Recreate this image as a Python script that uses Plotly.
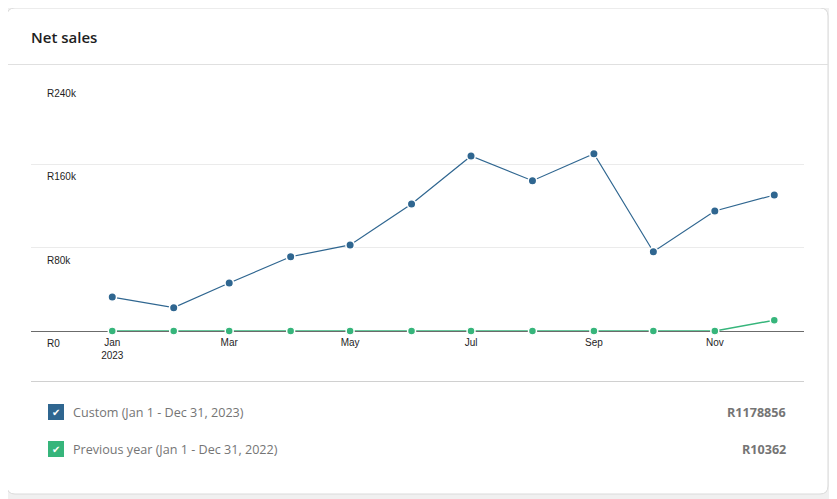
import plotly.graph_objects as go

# data
months = ["2023-01-01", "2023-02-01", "2023-03-01", "2023-04-01", "2023-05-01", "2023-06-01",
          "2023-07-01", "2023-08-01", "2023-09-01", "2023-10-01", "2023-11-01", "2023-12-01"]
current_sales = [32600, 22400, 46100, 71300, 82600, 121900, 168000, 144300, 170200, 76100, 115200, 130600]
previous_sales = [0, 0, 0, 0, 0, 0, 0, 0, 0, 0, 0, 10362]
x_tick_labels = ["Jan<br>2023", "Mar", "May", "Jul", "Sep", "Nov"]
y_ticks = [0, 80000, 160000, 240000]
y_tick_labels = ["R0", "R80k", "R160k", "R240k"]
legend_labels = ["Custom (Jan 1 - Dec 31, 2023)", "Previous year (Jan 1 - Dec 31, 2022)"]
legend_totals = ["R1178856", "R10362"]

BLUE = "#2f6690"
GREEN = "#36b57b"
# the page body keeps its 8px margin, so work in window pixels and shift
OFF = 8
W, H = 837 - OFF, 499 - OFF


def px_x(v):
    return (v - OFF) / W


def px_y(v):
    return 1 - (v - OFF) / H


fig = go.Figure()

fig.add_trace(go.Scatter(
    x=months, y=previous_sales, mode="lines+markers", cliponaxis=False,
    line=dict(color=GREEN, width=1.5),
    marker=dict(size=8, color=GREEN, line=dict(color="white", width=1.5)),
    hoverinfo="x+y", showlegend=False,
))
fig.add_trace(go.Scatter(
    x=months, y=current_sales, mode="lines+markers", cliponaxis=False,
    line=dict(color=BLUE, width=1.2),
    marker=dict(size=8.5, color=BLUE, line=dict(color="white", width=1.5)),
    hoverinfo="x+y", showlegend=False,
))

# card outline in window pixels
card = ("M 15,8 L 820,8 Q 828,8 828,16 L 828,486 Q 828,494 820,494 "
        "L 15,494 Q 7,494 7,486 L 7,16 Q 7,8 15,8 Z")


def path_to_paper(p):
    out = []
    for t in p.split():
        if "," in t:
            a, b = t.split(",")
            out.append(f"{px_x(float(a)):.5f},{px_y(float(b)):.5f}")
        else:
            out.append(t)
    return " ".join(out)


shapes = [
    dict(type="path", xref="paper", yref="paper", path=path_to_paper(card),
         fillcolor="white", line=dict(color="#dadada", width=1), layer="below"),
    dict(type="line", xref="paper", yref="paper", x0=px_x(7), x1=px_x(828),
         y0=px_y(64.5), y1=px_y(64.5), line=dict(color="#e0e0e0", width=1)),
    dict(type="line", xref="paper", yref="paper", x0=px_x(31), x1=px_x(804),
         y0=px_y(381.5), y1=px_y(381.5), line=dict(color="#d0d0d0", width=1)),
]

annotations = [
    dict(text="Net sales", xref="paper", yref="paper", x=px_x(29), y=px_y(37),
         xanchor="left", yanchor="middle", showarrow=False,
         font=dict(family="Open Sans", size=15, weight=600, color="#1e1e1e")),
]

# y tick labels sit just below their gridline, left aligned
for v, lab in zip(y_ticks, y_tick_labels):
    annotations.append(dict(text=lab, xref="paper", yref="y", x=px_x(45), y=v,
                            xanchor="left", yanchor="middle", yshift=-12.5, showarrow=False,
                            font=dict(family="Liberation Sans", size=10, color="#1e1e1e")))

# legend rows
for i, (lab, tot, col) in enumerate(zip(legend_labels, legend_totals, [BLUE, GREEN])):
    cy = 412 + i * 37
    shapes.append(dict(type="rect", xref="paper", yref="paper",
                       x0=px_x(48), x1=px_x(64), y0=px_y(cy - 8), y1=px_y(cy + 8),
                       fillcolor=col, line=dict(width=0)))
    annotations.append(dict(text="✔", xref="paper", yref="paper", x=px_x(56), y=px_y(cy),
                            xanchor="center", yanchor="middle", showarrow=False,
                            font=dict(family="DejaVu Sans", size=10, color="white")))
    annotations.append(dict(text=lab, xref="paper", yref="paper", x=px_x(70.5), y=px_y(cy),
                            xanchor="left", yanchor="middle", showarrow=False,
                            font=dict(family="Open Sans", size=12.6, color="#757575")))
    annotations.append(dict(text=f"<b>{tot}</b>", xref="paper", yref="paper", x=px_x(788), y=px_y(cy),
                            xanchor="right", yanchor="middle", showarrow=False,
                            font=dict(family="Open Sans", size=12.6, color="#757575")))

fig.update_layout(
    width=W, height=H,
    margin=dict(l=0, r=0, t=0, b=0),
    paper_bgcolor="#f0f0f0",
    plot_bgcolor="rgba(0,0,0,0)",
    shapes=shapes,
    annotations=annotations,
    xaxis=dict(
        domain=[px_x(31), px_x(804)],
        type="date",
        range=["2022-11-21", "2023-12-16"],
        tickvals=months[::2], ticktext=x_tick_labels,
        showgrid=False, zeroline=False, showline=False,
        ticks="", ticklabelstandoff=4,
        tickfont=dict(family="Liberation Sans", size=10, color="#1e1e1e"),
        fixedrange=True,
    ),
    yaxis=dict(
        domain=[px_y(331), px_y(81)],
        range=[0, 240000],
        tickvals=y_ticks[:-1],
        showticklabels=False,
        showgrid=True, gridcolor="#ebebeb", gridwidth=1,
        zeroline=True, zerolinecolor="#6b6b6b", zerolinewidth=1,
        showline=False, ticks="",
        fixedrange=True,
    ),
    showlegend=False,
)

fig.write_html("out.html")
